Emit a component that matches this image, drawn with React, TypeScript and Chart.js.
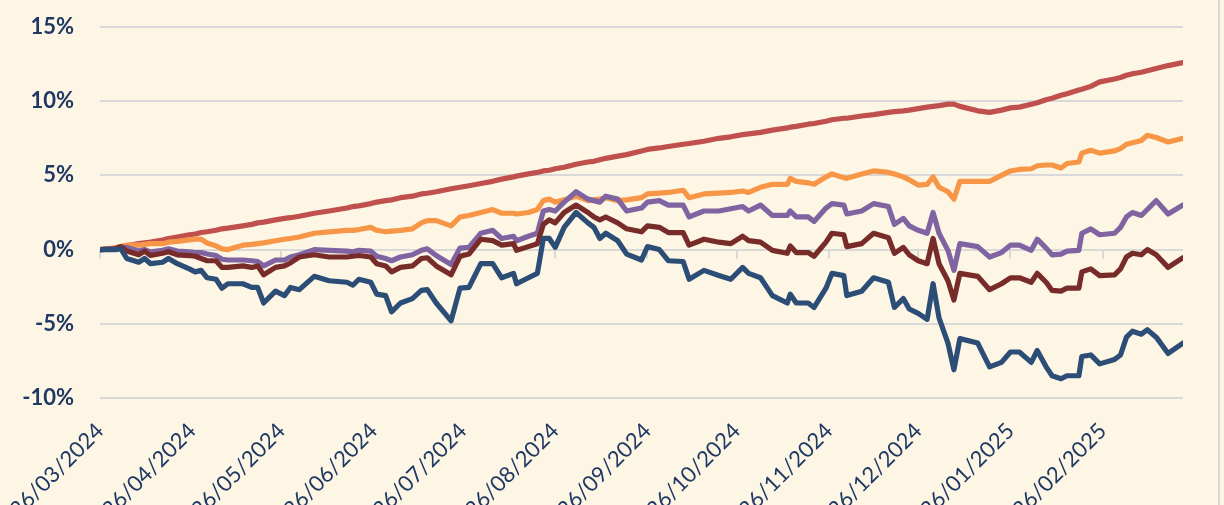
import React, { useEffect, useRef } from "react";
import { Chart, registerables } from "chart.js";

Chart.register(...registerables);

// Day offsets from 26/03/2024 for each observation
const dayOffsets = [
  0, 5, 7, 9, 13, 15, 17, 21, 23, 26,
  30, 32, 34, 36, 39, 41, 43, 48, 51, 53,
  55, 59, 62, 64, 67, 72, 77, 83, 85, 87,
  91, 93, 96, 98, 101, 105, 108, 110, 113, 118,
  121, 124, 128, 132, 135, 139, 140, 144, 147, 149,
  151, 153, 156, 160, 164, 166, 168, 170, 174, 177,
  182, 184, 188, 191, 196, 198, 203, 208, 212, 216,
  218, 222, 226, 231, 232, 234, 238, 240, 244, 246,
  250, 251, 256, 260, 265, 267, 270, 272, 275, 278,
  280, 282, 285, 287, 289, 295, 299, 303, 306, 309,
  313, 315, 318, 320, 323, 325, 329, 330, 333, 336,
  341, 343, 345, 347, 350, 352, 355, 359, 364,
];

const seriesRed = [
  0.0, 0.1, 0.2, 0.25, 0.4, 0.45, 0.5, 0.65, 0.75, 0.85,
  1.0, 1.05, 1.15, 1.2, 1.3, 1.4, 1.45, 1.6, 1.7, 1.8,
  1.85, 2.0, 2.1, 2.15, 2.25, 2.45, 2.6, 2.8, 2.9, 2.95,
  3.1, 3.2, 3.3, 3.35, 3.5, 3.6, 3.75, 3.8, 3.9, 4.1,
  4.2, 4.3, 4.45, 4.6, 4.75, 4.9, 4.95, 5.1, 5.2, 5.3,
  5.35, 5.45, 5.55, 5.75, 5.9, 5.95, 6.05, 6.15, 6.3, 6.4,
  6.65, 6.75, 6.85, 6.95, 7.1, 7.15, 7.3, 7.5, 7.6, 7.75,
  7.8, 7.9, 8.05, 8.2, 8.25, 8.3, 8.45, 8.5, 8.65, 8.75,
  8.85, 8.85, 9.0, 9.1, 9.25, 9.3, 9.35, 9.4, 9.5, 9.6,
  9.65, 9.7, 9.8, 9.8, 9.65, 9.35, 9.25, 9.4, 9.55, 9.6,
  9.8, 9.9, 10.1, 10.2, 10.4, 10.5, 10.75, 10.8, 11.0, 11.3,
  11.5, 11.6, 11.75, 11.85, 11.95, 12.05, 12.2, 12.4, 12.6,
];

const seriesOrange = [
  0.0, 0.1, 0.2, 0.3, 0.3, 0.35, 0.4, 0.4, 0.5, 0.55,
  0.65, 0.7, 0.7, 0.45, 0.25, 0.05, 0.0, 0.3, 0.35, 0.4,
  0.45, 0.6, 0.7, 0.75, 0.85, 1.1, 1.2, 1.3, 1.3, 1.35,
  1.5, 1.3, 1.2, 1.25, 1.3, 1.4, 1.8, 1.95, 1.95, 1.6,
  2.2, 2.3, 2.5, 2.7, 2.45, 2.45, 2.4, 2.5, 2.7, 3.3,
  3.4, 3.2, 3.35, 3.6, 3.3, 3.35, 3.4, 3.5, 3.3, 3.35,
  3.5, 3.75, 3.8, 3.85, 4.0, 3.5, 3.75, 3.8, 3.85, 3.95,
  3.85, 4.2, 4.4, 4.4, 4.8, 4.6, 4.5, 4.4, 4.9, 5.1,
  4.85, 4.8, 5.1, 5.3, 5.2, 5.1, 4.9, 4.7, 4.35, 4.4,
  4.9, 4.2, 3.9, 3.4, 4.6, 4.6, 4.6, 5.0, 5.3, 5.4,
  5.45, 5.65, 5.7, 5.7, 5.5, 5.8, 5.9, 6.5, 6.7, 6.5,
  6.65, 6.8, 7.1, 7.2, 7.35, 7.7, 7.55, 7.25, 7.5,
];

const seriesPurple = [
  0.0, 0.05, 0.15, 0.15, -0.1, 0.0, -0.15, -0.05, 0.05, -0.1,
  -0.15, -0.2, -0.2, -0.3, -0.4, -0.65, -0.7, -0.7, -0.75, -0.8,
  -1.1, -0.7, -0.7, -0.5, -0.35, 0.0, -0.05, -0.1, -0.15, -0.05,
  -0.1, -0.45, -0.6, -0.75, -0.5, -0.35, -0.05, 0.05, -0.4, -1.0,
  0.1, 0.15, 1.1, 1.3, 0.75, 0.9, 0.6, 0.9, 1.1, 2.6,
  2.7, 2.6, 3.2, 3.9, 3.4, 3.3, 3.2, 3.6, 3.4, 2.6,
  2.8, 3.2, 3.3, 3.0, 3.0, 2.2, 2.6, 2.6, 2.75, 2.9,
  2.6, 3.0, 2.3, 2.3, 2.6, 2.2, 2.2, 1.9, 2.8, 3.1,
  3.0, 2.4, 2.6, 3.1, 2.9, 1.7, 2.1, 1.6, 1.3, 1.1,
  2.5, 1.1, -0.05, -1.4, 0.4, 0.2, -0.5, -0.2, 0.3, 0.3,
  -0.05, 0.7, 0.1, -0.35, -0.3, -0.1, -0.05, 1.1, 1.4, 1.0,
  1.1, 1.5, 2.2, 2.5, 2.3, 2.7, 3.3, 2.4, 3.0,
];

const seriesMaroon = [
  0.0, 0.05, 0.2, -0.1, -0.35, -0.1, -0.4, -0.25, -0.15, -0.35,
  -0.4, -0.45, -0.6, -0.75, -0.75, -1.2, -1.2, -1.1, -1.2, -1.1,
  -1.7, -1.2, -1.1, -0.9, -0.5, -0.35, -0.5, -0.5, -0.45, -0.4,
  -0.5, -0.95, -1.1, -1.5, -1.2, -1.1, -0.6, -0.55, -1.1, -1.7,
  -0.45, -0.3, 0.7, 0.6, 0.3, 0.4, -0.05, 0.2, 0.4, 1.7,
  2.0, 1.8, 2.5, 3.0, 2.5, 2.2, 2.0, 2.2, 1.8, 1.4,
  1.2, 1.6, 1.5, 1.15, 1.15, 0.3, 0.7, 0.5, 0.4, 0.9,
  0.6, 0.5, -0.05, -0.25, 0.25, -0.2, -0.2, -0.45, 0.5, 1.1,
  1.0, 0.2, 0.4, 1.1, 0.8, -0.25, 0.15, -0.35, -0.75, -0.95,
  0.75, -0.95, -2.1, -3.4, -1.6, -1.8, -2.7, -2.3, -1.9, -1.9,
  -2.2, -1.6, -2.2, -2.75, -2.8, -2.6, -2.6, -1.5, -1.3, -1.75,
  -1.7, -1.3, -0.5, -0.25, -0.35, 0.0, -0.35, -1.2, -0.55,
];

const seriesNavy = [
  0.0, 0.0, 0.05, -0.6, -0.85, -0.6, -0.95, -0.85, -0.6, -0.95,
  -1.3, -1.5, -1.4, -1.9, -2.0, -2.6, -2.3, -2.3, -2.55, -2.55,
  -3.6, -2.8, -3.1, -2.55, -2.7, -1.8, -2.1, -2.2, -2.4, -2.0,
  -2.2, -3.0, -3.1, -4.2, -3.6, -3.3, -2.75, -2.7, -3.6, -4.8,
  -2.6, -2.55, -0.95, -0.95, -1.9, -1.6, -2.3, -1.9, -1.6, 0.75,
  0.75, 0.15, 1.5, 2.5, 1.8, 1.5, 0.75, 1.1, 0.6, -0.3,
  -0.7, 0.2, 0.0, -0.75, -0.8, -2.0, -1.4, -1.75, -2.0, -1.2,
  -1.6, -1.9, -3.1, -3.6, -3.0, -3.6, -3.6, -3.9, -2.6, -1.6,
  -1.75, -3.1, -2.8, -1.9, -2.2, -3.9, -3.3, -4.0, -4.3, -4.7,
  -2.3, -4.6, -6.3, -8.1, -6.0, -6.3, -7.9, -7.6, -6.9, -6.9,
  -7.6, -6.8, -7.9, -8.5, -8.7, -8.5, -8.5, -7.2, -7.1, -7.7,
  -7.4, -7.1, -5.9, -5.5, -5.7, -5.4, -5.9, -7.0, -6.3,
];

const tickDays = [0, 31, 61, 92, 122, 153, 184, 214, 245, 275, 306, 337];
const tickLabels = [
  "26/03/2024", "26/04/2024", "26/05/2024", "26/06/2024",
  "26/07/2024", "26/08/2024", "26/09/2024", "26/10/2024",
  "26/11/2024", "26/12/2024", "26/01/2025", "26/02/2025",
];
const yTickValues = [-10, -5, 0, 5, 10, 15];

const BG = "#FDF6E5";
const GRID = "#D9D9D9";
const TEXT = "#1F3864";

export default function App() {
  const ref = useRef<HTMLCanvasElement | null>(null);

  useEffect(() => {
    const canvas = ref.current;
    if (!canvas) return;
    const pts = (vals: number[]) => dayOffsets.map((d, i) => ({ x: d, y: vals[i] }));

    const zeroTicks = {
      id: "zeroTicks",
      beforeDatasetsDraw(chart: any) {
        const { ctx, scales } = chart;
        const x = scales.x;
        const y = scales.y;
        const y0 = y.getPixelForValue(0);
        ctx.save();
        ctx.strokeStyle = GRID;
        ctx.lineWidth = 2;
        tickDays.forEach((d) => {
          const px = Math.round(x.getPixelForValue(d));
          ctx.beginPath();
          ctx.moveTo(px, y0);
          ctx.lineTo(px, y0 + 9);
          ctx.stroke();
        });
        ctx.restore();
      },
    };

    const mkDs = (label: string, data: number[], color: string, order: number) => ({
      label,
      data: pts(data),
      borderColor: color,
      backgroundColor: color,
      borderWidth: 5.2,
      pointRadius: 0,
      tension: 0,
      fill: false,
      order,
      borderJoinStyle: "round" as const,
      borderCapStyle: "round" as const,
    });

    const chart = new Chart(canvas, {
      type: "line",
      data: {
        datasets: [
          mkDs("Series 1", seriesRed, "#C0504D", 5),
          mkDs("Series 2", seriesOrange, "#F79646", 4),
          mkDs("Series 3", seriesPurple, "#8064A2", 3),
          mkDs("Series 4", seriesMaroon, "#772C2A", 2),
          mkDs("Series 5", seriesNavy, "#2C4D75", 1),
        ],
      },
      options: {
        responsive: false,
        animation: false,
        devicePixelRatio: 1,
        layout: { padding: { left: 0, right: 41, top: 27, bottom: 0 } },
        plugins: { legend: { display: false }, tooltip: { enabled: false } },
        scales: {
          x: {
            type: "linear",
            min: 0,
            max: 364,
            grid: { display: false, drawTicks: false },
            border: { display: false },
            afterBuildTicks: (s: any) => {
              s.ticks = tickDays.map((v) => ({ value: v }));
            },
            afterFit: (s: any) => {
              s.height = 107;
              s.paddingLeft = 0;
              s.paddingRight = 0;
            },
            ticks: {
              autoSkip: false,
              minRotation: 45,
              maxRotation: 45,
              padding: 20,
              color: TEXT,
              font: { family: "Lato", size: 22 },
              callback: (_v: any, i: number) => tickLabels[i] ?? "",
            },
          },
          y: {
            min: -10,
            max: 15,
            afterBuildTicks: (s: any) => {
              s.ticks = yTickValues.map((v) => ({ value: v }));
            },
            afterFit: (s: any) => {
              s.width = 100;
              s.paddingTop = 0;
              s.paddingBottom = 0;
            },
            grid: { color: GRID, lineWidth: 2, drawTicks: false },
            border: { display: false },
            ticks: {
              padding: 26,
              color: TEXT,
              font: { family: "Lato", size: 22, weight: "bold" },
              callback: (v: any) => `${v}%`,
            },
          },
        },
      },
      plugins: [zeroTicks],
    } as any);

    return () => chart.destroy();
  }, []);

  return (
    <div
      style={{
        position: "fixed",
        left: 0,
        top: 0,
        width: 1224,
        height: 505,
        overflow: "hidden",
        background: BG,
      }}
    >
      <canvas ref={ref} width={1224} height={505} style={{ display: "block" }} />
      <div
        style={{
          position: "absolute",
          left: 1218,
          top: 0,
          width: 2,
          height: 505,
          background: GRID,
        }}
      />
    </div>
  );
}
